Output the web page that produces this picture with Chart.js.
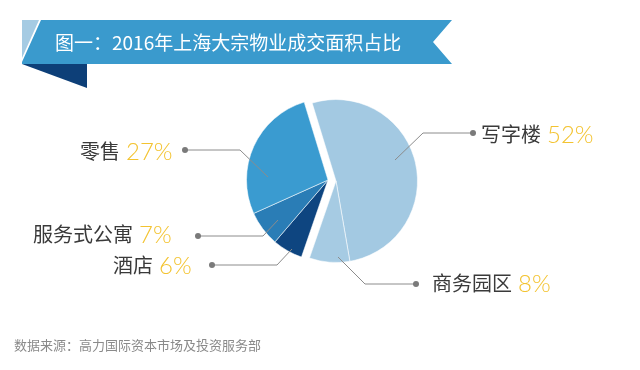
<!DOCTYPE html>
<html lang="zh">
<head>
<meta charset="UTF-8">
<title>2016年上海大宗物业成交面积占比</title>
<script src="https://cdn.jsdelivr.net/npm/chart.js@4"></script>
<style>
  html, body { margin: 0; padding: 0; background: #fff; }
  #wrap { width: 640px; height: 370px; position: relative; }
</style>
</head>
<body>
<div id="wrap"><canvas id="pie" width="640" height="370"></canvas></div>
<script>
const titleText = '图一：2016年上海大宗物业成交面积占比';
const sourceText = '数据来源：高力国际资本市场及投资服务部';
const categories = ['写字楼', '商务园区', '酒店', '服务式公寓', '零售'];
const shares = [52, 8, 6, 7, 27];

const sliceColors = ['#a3c9e2', '#a6cbe3', '#0e4580', '#2a7db6', '#3a9bd0'];
// slices pulled out to the right (写字楼 + 商务园区)
const exploded = [true, true, false, false, false];
const explodeShift = [8, 1];

// leader lines: points from inside the slice out to the dot, then text start
const callouts = [
  { pts: [[395, 160], [423, 133], [473, 133]], tx: 481, ty: 134 },
  { pts: [[338, 257], [365, 284], [416, 284]], tx: 432, ty: 283 },
  { pts: [[292, 249], [277, 265], [212, 265]], tx: 113, ty: 265 },
  { pts: [[278, 220], [263, 236], [198, 236]], tx: 33, ty: 234 },
  { pts: [[268, 177], [240, 150], [185, 150]], tx: 80, ty: 151 }
];

function poly(ctx, pts, color) {
  ctx.fillStyle = color;
  ctx.beginPath();
  pts.forEach((p, i) => i ? ctx.lineTo(p[0], p[1]) : ctx.moveTo(p[0], p[1]));
  ctx.closePath();
  ctx.fill();
}

const decor = {
  id: 'decor',
  beforeDraw(chart) {
    const ctx = chart.ctx;
    ctx.save();
    // ribbon title
    poly(ctx, [[22, 20], [39, 20], [22, 58]], '#a5cbe3');
    poly(ctx, [[41, 20], [452, 20], [433, 42], [452, 64], [22, 64], [22, 62]], '#3a9acd');
    poly(ctx, [[22, 64], [87, 64], [87, 88]], '#0d3f78');
    ctx.fillStyle = '#ffffff';
    ctx.font = '19px "Noto Sans CJK SC", sans-serif';
    ctx.textBaseline = 'middle';
    ctx.fillText(titleText, 55, 43);
    // source note
    ctx.fillStyle = '#8a8a8a';
    ctx.font = '13px "Noto Sans CJK SC", sans-serif';
    ctx.fillText(sourceText, 14, 345);
    ctx.restore();
  },
  beforeDatasetDraw(chart, args) {
    const ctx = chart.ctx;
    const meta = chart.getDatasetMeta(args.index);
    meta.data.forEach((arc, i) => {
      ctx.save();
      if (exploded[i]) ctx.translate(explodeShift[0], explodeShift[1]);
      arc.draw(ctx, chart.chartArea);
      ctx.restore();
    });
    return false;
  },
  afterDraw(chart) {
    const ctx = chart.ctx;
    ctx.save();
    callouts.forEach((c, i) => {
      ctx.strokeStyle = '#8c8c8c';
      ctx.lineWidth = 1;
      ctx.beginPath();
      c.pts.forEach((p, k) => k ? ctx.lineTo(p[0], p[1]) : ctx.moveTo(p[0], p[1]));
      ctx.stroke();
      const end = c.pts[c.pts.length - 1];
      ctx.fillStyle = '#7a7a7a';
      ctx.beginPath();
      ctx.arc(end[0], end[1], 3, 0, Math.PI * 2);
      ctx.fill();

      ctx.textBaseline = 'middle';
      ctx.font = '20px "Noto Sans CJK SC", sans-serif';
      ctx.fillStyle = '#3a3a3a';
      ctx.fillText(categories[i], c.tx, c.ty);
      const w = ctx.measureText(categories[i]).width;
      ctx.font = '300 24px Lato, "Open Sans", sans-serif';
      ctx.fillStyle = '#f3c330';
      ctx.fillText(shares[i] + '%', c.tx + w + 6, c.ty + 1);
    });
    ctx.restore();
  }
};

new Chart(document.getElementById('pie'), {
  type: 'pie',
  data: {
    labels: categories,
    datasets: [{
      data: shares,
      backgroundColor: sliceColors,
      borderColor: 'rgba(255,255,255,0.55)',
      borderWidth: 1
    }]
  },
  options: {
    responsive: false,
    animation: false,
    devicePixelRatio: 1,
    rotation: -17,
    layout: { padding: { left: 246, right: 230, top: 98, bottom: 108 } },
    plugins: {
      legend: { display: false },
      tooltip: { enabled: false }
    }
  },
  plugins: [decor]
});
</script>
</body>
</html>
